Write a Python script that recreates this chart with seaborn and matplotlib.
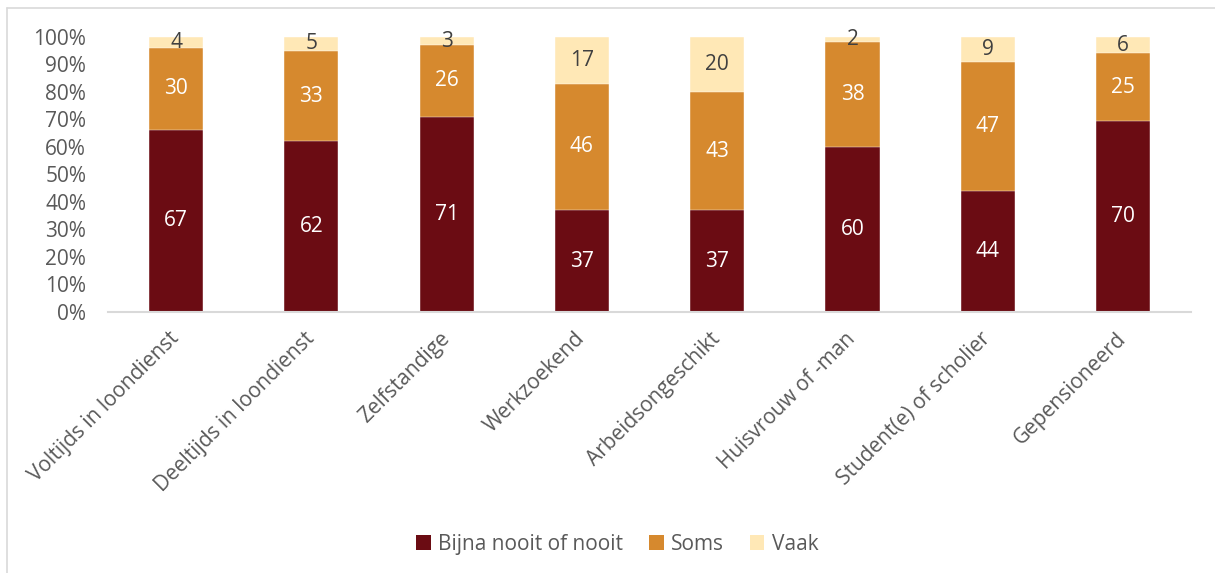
import matplotlib
matplotlib.use("Agg")
import matplotlib.pyplot as plt
from matplotlib.lines import Line2D
from matplotlib.patches import Patch
import numpy as np
import pandas as pd
import seaborn as sns

categories = [
    "Voltijds in loondienst",
    "Deeltijds in loondienst",
    "Zelfstandige",
    "Werkzoekend",
    "Arbeidsongeschikt",
    "Huisvrouw of -man",
    "Student(e) of scholier",
    "Gepensioneerd",
]
bijna_nooit = [67, 62, 71, 37, 37, 60, 44, 70]
soms = [30, 33, 26, 46, 43, 38, 47, 25]
vaak = [4, 5, 3, 17, 20, 2, 9, 6]
series_names = ["Bijna nooit of nooit", "Soms", "Vaak"]
colors = ["#6B0C13", "#D6892E", "#FFE8B6"]
label_colors = ["white", "white", "#404040"]
y_ticks = [0, 10, 20, 30, 40, 50, 60, 70, 80, 90, 100]

sns.set_theme(style="white")
plt.rcParams["font.family"] = ["Open Sans", "DejaVu Sans"]
FS = 15

raw = np.array([bijna_nooit, soms, vaak], dtype=float)
share = raw / raw.sum(axis=0) * 100  # 100% stacked
cum = np.cumsum(share, axis=0)

df = pd.DataFrame({"categorie": categories})
for i, name in enumerate(series_names):
    df[name + "_top"] = cum[i]

fig = plt.figure(figsize=(12.15, 5.73), dpi=100)
ax = fig.add_axes([0.0892, 0.4555, 0.8908, 0.480])

# stacked bars drawn from the tallest cumulative total down
for i in reversed(range(3)):
    sns.barplot(data=df, x="categorie", y=series_names[i] + "_top", color=colors[i],
                width=0.4, saturation=1, ax=ax, edgecolor="white", linewidth=0.3,
                order=categories)

# segment value labels
for j in range(len(categories)):
    for i in range(3):
        bottom = cum[i - 1][j] if i > 0 else 0.0
        mid = (bottom + cum[i][j]) / 2
        ax.text(j, mid, f"{int(raw[i][j])}", ha="center", va="center",
                fontsize=FS, color=label_colors[i])

ax.set_ylim(0, 100)
ax.set_xlim(-0.5, len(categories) - 0.5)
ax.set_yticks(y_ticks)
ax.set_yticklabels([f"{v}%" for v in y_ticks], fontsize=FS, color="#595959")
ax.set_xticks(range(len(categories)))
ax.set_xticklabels(categories, rotation=45, ha="right", va="center",
                   rotation_mode="anchor", fontsize=FS, color="#595959")
ax.tick_params(axis="x", length=0, pad=17)
ax.tick_params(axis="y", length=0, pad=16)
ax.set_xlabel("")
ax.set_ylabel("")
for side in ["top", "right", "left"]:
    ax.spines[side].set_visible(False)
ax.spines["bottom"].set_color("#D9D9D9")
ax.spines["bottom"].set_linewidth(1.5)

handles = [Patch(facecolor=c, edgecolor="none") for c in colors]
fig.legend(handles, series_names, loc="center", bbox_to_anchor=(0.508, 0.05),
           ncol=3, frameon=False, fontsize=FS, handlelength=0.7, handleheight=0.7,
           handletextpad=0.35, columnspacing=1.25, labelcolor="#595959")

# chart area border
fig.add_artist(Line2D([0.006, 1.0], [0.986, 0.986], transform=fig.transFigure,
                      color="#D9D9D9", linewidth=1.2))
fig.add_artist(Line2D([0.006, 0.006], [0.0, 0.986], transform=fig.transFigure,
                      color="#D9D9D9", linewidth=1.2))

fig.savefig("out.png", dpi=100)
